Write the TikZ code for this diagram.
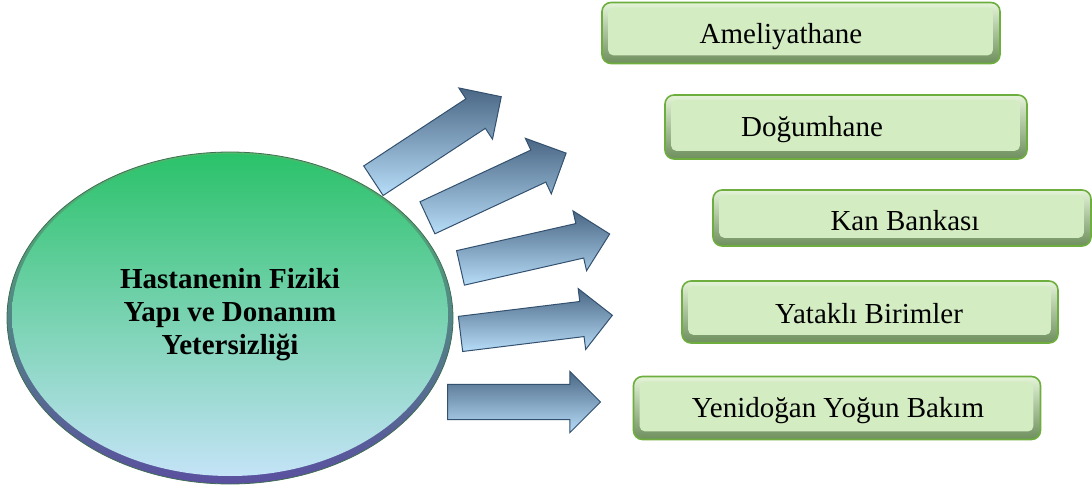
\documentclass[tikz,border=0pt]{standalone}
\usepackage{fontspec}
\setmainfont{Liberation Serif}
\usetikzlibrary{shapes.geometric,shapes.arrows}

\definecolor{rimtop}{HTML}{4DBB6C}
\definecolor{rimmid}{HTML}{3E7F5E}
\definecolor{rimbot}{HTML}{5A4FA0}
\definecolor{rimline}{HTML}{3F6E52}
\definecolor{facetop}{HTML}{2BC26A}
\definecolor{facemid}{HTML}{6DCFAE}
\definecolor{facebot}{HTML}{C4E3F7}
\definecolor{arrdark}{HTML}{4A6784}
\definecolor{arrmid}{HTML}{8FB3D2}
\definecolor{arrlight}{HTML}{B7DDF9}
\definecolor{arrline}{HTML}{33516E}
\definecolor{boxline}{HTML}{6EAE3E}
\definecolor{bevtop}{HTML}{E4F4D8}
\definecolor{bevbot}{HTML}{6E8F5D}
\definecolor{boxface}{HTML}{D3ECC2}

\tikzset{
  rim/.style={ellipse, draw=rimline, line width=0.8pt,
    top color=rimtop, middle color=rimmid, bottom color=rimbot,
    minimum width=446pt, minimum height=332pt, inner sep=0pt},
  face/.style={ellipse, top color=facetop, middle color=facemid, bottom color=facebot,
    minimum width=436pt, minimum height=322pt, inner sep=0pt,
    font=\fontsize{29}{33}\selectfont\bfseries, align=center},
  blockarrow/.style={single arrow, draw=arrline, line width=1pt,
    top color=arrdark, middle color=arrmid, bottom color=arrlight,
    inner sep=12pt, single arrow head extend=13pt, single arrow tip angle=90,
    minimum height=153pt, anchor=tail, shape border uses incircle},
  boxouter/.style={rectangle, rounded corners=9pt, draw=boxline, line width=1.6pt,
    top color=bevtop, bottom color=bevbot, inner sep=0pt},
  boxface/.style={fill=boxface, rounded corners=5pt},
  boxtext/.style={font=\fontsize{29}{33}\selectfont, inner sep=0pt, anchor=center},
}

\begin{document}
\begin{tikzpicture}[x=1pt, y=-1pt]
  \useasboundingbox (0,0) rectangle (1092,489);

  % central ellipse: bevelled rim and shaded face
  \node[rim] (hubrim) at (230,318) {};
  \node[face] (hub) at (230,315) {Hastanenin Fiziki\\Yapı ve Donanım\\Yetersizliği};

  % block arrows fanning out to the right
  \node[blockarrow, rotate=33.3] (a1) at (373,181) {};
  \node[blockarrow, rotate=25.0] (a2) at (427,218) {};
  \node[blockarrow, rotate=12.8] (a3) at (460,268) {};
  \node[blockarrow, rotate=7.0]  (a4) at (460,334) {};
  \node[blockarrow, rotate=0]    (a5) at (447,402) {};

  % bevelled boxes with their labels
  \node[boxouter, minimum width=398pt, minimum height=61pt] (b1) at (801,33) {};
  \fill[boxface] ([xshift=7pt,yshift=-6pt]b1.north west) rectangle ([xshift=-8pt,yshift=9pt]b1.south east);
  \node[boxtext] (t1) at (781,37) {Ameliyathane};

  \node[boxouter, minimum width=362pt, minimum height=64pt] (b2) at (846,127) {};
  \fill[boxface] ([xshift=7pt,yshift=-6pt]b2.north west) rectangle ([xshift=-8pt,yshift=9pt]b2.south east);
  \node[boxtext] (t2) at (812,130) {Doğumhane};

  \node[boxouter, minimum width=378pt, minimum height=56pt] (b3) at (902,218) {};
  \fill[boxface] ([xshift=7pt,yshift=-6pt]b3.north west) rectangle ([xshift=-8pt,yshift=9pt]b3.south east);
  \node[boxtext] (t3) at (905,221) {Kan Bankası};

  \node[boxouter, minimum width=376pt, minimum height=62pt] (b4) at (870,312) {};
  \fill[boxface] ([xshift=7pt,yshift=-6pt]b4.north west) rectangle ([xshift=-8pt,yshift=9pt]b4.south east);
  \node[boxtext] (t4) at (869,314) {Yataklı Birimler};

  \node[boxouter, minimum width=407pt, minimum height=63pt] (b5) at (837,408) {};
  \fill[boxface] ([xshift=7pt,yshift=-6pt]b5.north west) rectangle ([xshift=-8pt,yshift=9pt]b5.south east);
  \node[boxtext] (t5) at (838,411) {Yenidoğan Yoğun Bakım};
\end{tikzpicture}
\end{document}
